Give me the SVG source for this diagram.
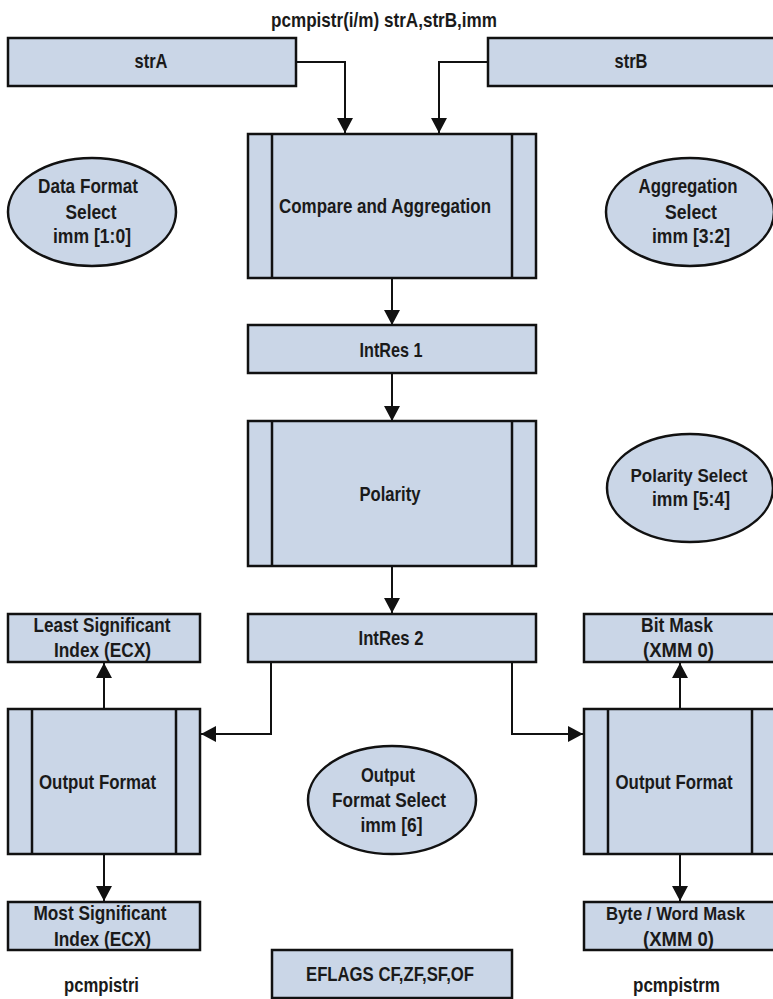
<svg xmlns="http://www.w3.org/2000/svg" width="773" height="999" viewBox="0 0 773 999">
<defs>
<style>
.box{fill:#cad6e7;stroke:#111;stroke-width:2.5}
.ln{fill:none;stroke:#111;stroke-width:2.5}
.cn{fill:none;stroke:#111;stroke-width:2}
text{font-family:"Liberation Sans",Arial,sans-serif;font-weight:bold;font-size:21px;fill:#1a1a1a;text-anchor:middle}
.sm{font-size:19px}
</style>
<marker id="ah" markerWidth="15" markerHeight="16" refX="15" refY="8" orient="auto" markerUnits="userSpaceOnUse" viewBox="0 0 15 16">
<path d="M0,0 L15,8 L0,16 z" fill="#111"/>
</marker>
</defs>
<rect width="773" height="999" fill="#fff"/>
<text x="384" y="27" textLength="226" lengthAdjust="spacingAndGlyphs">pcmpistr(i/m) strA,strB,imm</text>

<g id="connectors">
<path class="cn" d="M296,62 H345 V133" marker-end="url(#ah)"/>
<path class="cn" d="M488,62 H439 V133" marker-end="url(#ah)"/>
<path class="cn" d="M392,278 V325" marker-end="url(#ah)"/>
<path class="cn" d="M392,373 V421" marker-end="url(#ah)"/>
<path class="cn" d="M392,566 V613" marker-end="url(#ah)"/>
<path class="cn" d="M271,662 V734 H201" marker-end="url(#ah)"/>
<path class="cn" d="M512,662 V734 H583" marker-end="url(#ah)"/>
<path class="cn" d="M104,709 V663" marker-end="url(#ah)"/>
<path class="cn" d="M104,854 V901" marker-end="url(#ah)"/>
<path class="cn" d="M680,709 V663" marker-end="url(#ah)"/>
<path class="cn" d="M680,854 V901" marker-end="url(#ah)"/>
</g>

<g id="strA"><rect class="box" x="8" y="38" width="288" height="48"/><text x="151" y="68" textLength="33" lengthAdjust="spacingAndGlyphs">strA</text></g>
<g id="strB"><rect class="box" x="488" y="38" width="290" height="48"/><text x="631" y="68" textLength="33" lengthAdjust="spacingAndGlyphs">strB</text></g>

<g id="compare"><rect class="box" x="248" y="134" width="288" height="144"/><path class="ln" d="M272,134 V278 M512,134 V278"/><text x="385" y="213" textLength="212" lengthAdjust="spacingAndGlyphs">Compare and Aggregation</text></g>

<g id="dataFormat"><ellipse class="box" cx="92" cy="212" rx="84" ry="54"/><text x="88" y="193" textLength="100" lengthAdjust="spacingAndGlyphs">Data Format</text><text x="91" y="219" textLength="51" lengthAdjust="spacingAndGlyphs">Select</text><text x="92" y="243" textLength="78" lengthAdjust="spacingAndGlyphs">imm [1:0]</text></g>
<g id="aggSelect"><ellipse class="box" cx="690" cy="212" rx="84" ry="54"/><text x="688" y="193" textLength="99" lengthAdjust="spacingAndGlyphs">Aggregation</text><text x="691" y="219" textLength="52" lengthAdjust="spacingAndGlyphs">Select</text><text x="691" y="243" textLength="78" lengthAdjust="spacingAndGlyphs">imm [3:2]</text></g>

<g id="intres1"><rect class="box" x="248" y="325" width="288" height="48"/><text x="391" y="357" textLength="63" lengthAdjust="spacingAndGlyphs">IntRes 1</text></g>

<g id="polarity"><rect class="box" x="248" y="421" width="288" height="145"/><path class="ln" d="M272,421 V566 M512,421 V566"/><text x="390" y="501" textLength="61" lengthAdjust="spacingAndGlyphs">Polarity</text></g>
<g id="polSelect"><ellipse class="box" cx="690" cy="488" rx="83" ry="54"/><text class="sm" x="689" y="482" textLength="117" lengthAdjust="spacingAndGlyphs">Polarity Select</text><text x="691" y="506" textLength="78" lengthAdjust="spacingAndGlyphs">imm [5:4]</text></g>

<g id="intres2"><rect class="box" x="248" y="614" width="288" height="48"/><text x="391" y="645" textLength="65" lengthAdjust="spacingAndGlyphs">IntRes 2</text></g>

<g id="lsIndex"><rect class="box" x="8" y="614" width="192" height="48"/><text x="102" y="632" textLength="137" lengthAdjust="spacingAndGlyphs">Least Significant</text><text x="102.5" y="657" textLength="97" lengthAdjust="spacingAndGlyphs">Index (ECX)</text></g>
<g id="bitMask"><rect class="box" x="584" y="614" width="194" height="48"/><text x="677" y="632" textLength="72" lengthAdjust="spacingAndGlyphs">Bit Mask</text><text x="678.5" y="657" textLength="71" lengthAdjust="spacingAndGlyphs">(XMM 0)</text></g>

<g id="outLeft"><rect class="box" x="8" y="709" width="192" height="145"/><path class="ln" d="M32,709 V854 M176,709 V854"/><text x="97.5" y="789" textLength="117" lengthAdjust="spacingAndGlyphs">Output Format</text></g>
<g id="outRight"><rect class="box" x="584" y="709" width="194" height="145"/><path class="ln" d="M608,709 V854 M752,709 V854"/><text x="674" y="789" textLength="117" lengthAdjust="spacingAndGlyphs">Output Format</text></g>

<g id="outSelect"><ellipse class="box" cx="392" cy="800" rx="84" ry="54"/><text x="388" y="782" textLength="54" lengthAdjust="spacingAndGlyphs">Output</text><text x="389" y="807" textLength="114" lengthAdjust="spacingAndGlyphs">Format Select</text><text x="391.5" y="832" textLength="62" lengthAdjust="spacingAndGlyphs">imm [6]</text></g>

<g id="msIndex"><rect class="box" x="8" y="902" width="192" height="48"/><text x="100" y="920" textLength="133" lengthAdjust="spacingAndGlyphs">Most Significant</text><text x="102.5" y="946" textLength="97" lengthAdjust="spacingAndGlyphs">Index (ECX)</text></g>
<g id="bwMask"><rect class="box" x="584" y="902" width="194" height="48"/><text class="sm" x="675.5" y="920" textLength="139" lengthAdjust="spacingAndGlyphs">Byte / Word Mask</text><text x="678.5" y="946" textLength="71" lengthAdjust="spacingAndGlyphs">(XMM 0)</text></g>

<g id="eflags"><rect class="box" x="272" y="950" width="240" height="48"/><text x="390" y="981" textLength="168" lengthAdjust="spacingAndGlyphs">EFLAGS CF,ZF,SF,OF</text></g>

<text x="101.5" y="992" textLength="75" lengthAdjust="spacingAndGlyphs">pcmpistri</text>
<text x="676.5" y="992" textLength="87" lengthAdjust="spacingAndGlyphs">pcmpistrm</text>
</svg>
